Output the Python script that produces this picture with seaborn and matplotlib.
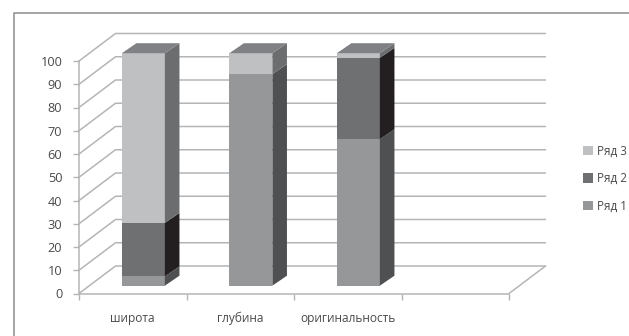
import numpy as np
import pandas as pd
import seaborn as sns
import matplotlib
matplotlib.use("Agg")
import matplotlib.pyplot as plt
from matplotlib.lines import Line2D
from matplotlib.patches import Patch, Polygon

categories = ["широта", "глубина", "оригинальность"]
slots = categories + [""]
series_names = ["Ряд 1", "Ряд 2", "Ряд 3"]
ryad_1 = [4, 91, 63]
ryad_2 = [23, 0, 35]
ryad_3 = [73, 9, 2]

front_colors = ["#969799", "#6f7072", "#bfc0c2"]
side_colors = ["#4f5052", "#231f20", "#6c6d6f"]
top_color = "#808184"
grid_color = "#b4b5b7"
border_color = "#8c8d8f"
text_color = "#4a4a4c"

sns.set_theme(style="white")
plt.rcParams["font.family"] = ["Open Sans", "DejaVu Sans"]
plt.rcParams["font.size"] = 9

W, H = 629, 336
fig = plt.figure(figsize=(W / 100, H / 100), dpi=100, facecolor="white")
left, right, top, bottom = 79, 509, 61, 293.5
ax = fig.add_axes([left / W, 1 - bottom / H, (right - left) / W, (bottom - top) / H])
ax.set_xlim(-0.5, 3.5)
ax.set_ylim(0, 100)
ax.patch.set_alpha(0)

# one pixel expressed in data units, for the oblique projection
ux = 4 / (right - left)
uy = 100 / (bottom - top)
wall_dx, wall_dy = 36.5 * ux, 27.5 * uy
bar_dx, bar_dy = 10.6 * ux, 7.8 * uy
side_dx, side_dy = 14.6 * ux, 10 * uy
bar_width = 0.4

# back wall, left wall and floor
for v in range(0, 101, 10):
    ax.plot([-0.5, -0.5 + wall_dx, 3.5 + wall_dx], [v, v + wall_dy, v + wall_dy],
            color=grid_color, lw=1.1, clip_on=False, zorder=1)
ax.plot([3.5, 3.5 + wall_dx], [0, wall_dy], color=grid_color, lw=1.1, clip_on=False, zorder=1)

# stacked front faces
values = [ryad_1, ryad_2, ryad_3]
base = np.zeros(len(categories))
for name, vals, col in zip(series_names, values, front_colors):
    frame = pd.DataFrame({"cat": categories, "val": vals})
    sns.barplot(data=frame, x="cat", y="val", order=slots, color=col, saturation=1,
                width=bar_width, bottom=base + bar_dy, ax=ax, zorder=3, clip_on=False,
                linewidth=0, errorbar=None)
    base = base + np.array(vals)
for bar in ax.patches:
    bar.set_x(bar.get_x() + bar_dx)
ax.set_xlim(-0.5, 3.5)
ax.set_ylim(0, 100)

# side and top faces follow from the same values
base = np.zeros(len(categories))
for vals, col in zip(values, side_colors):
    for i, v in enumerate(vals):
        if v == 0:
            continue
        x0 = i + bar_width / 2 + bar_dx
        y0 = base[i] + bar_dy
        ax.add_patch(Polygon([(x0, y0), (x0 + side_dx, y0 + side_dy),
                              (x0 + side_dx, y0 + v + side_dy), (x0, y0 + v)],
                             closed=True, fc=col, ec="none", zorder=3, clip_on=False))
    base = base + np.array(vals)
for i, total in enumerate(base):
    xl = i - bar_width / 2 + bar_dx
    xr = i + bar_width / 2 + bar_dx
    yt = total + bar_dy
    ax.add_patch(Polygon([(xl, yt), (xr, yt), (xr + side_dx, yt + side_dy), (xl + side_dx, yt + side_dy)],
                         closed=True, fc=top_color, ec="none", zorder=3, clip_on=False))

# axes
sns.despine(ax=ax, top=True, right=True)
for s in ("left", "bottom"):
    ax.spines[s].set_color(grid_color)
    ax.spines[s].set_linewidth(1.1)
ax.set_xlabel("")
ax.set_ylabel("")
ax.set_yticks(range(0, 101, 10))
ax.set_xticks(range(3))
ax.set_xticklabels(categories)
ax.set_xticks(np.arange(-0.5, 3.6, 1), minor=True)
ax.tick_params(axis="y", length=4, width=1, color=grid_color, labelsize=9.2, labelcolor=text_color, pad=8, left=True)
ax.tick_params(axis="x", which="major", length=0, labelsize=8.6, labelcolor=text_color, pad=13)
ax.tick_params(axis="x", which="minor", length=4, width=1, color=grid_color, bottom=True)

# legend, top entry last in the stack
handles = [Patch(fc=c, ec="none") for c in front_colors[::-1]]
leg = ax.legend(handles, series_names[::-1], loc="center left",
                bbox_to_anchor=(583 / W, 1 - 178.5 / H), bbox_transform=fig.transFigure,
                frameon=False, fontsize=8.4, labelspacing=1.25, handlelength=0.85, handleheight=0.85,
                handletextpad=0.35, borderpad=0, borderaxespad=0, labelcolor=text_color)

# outer chart border
fig.add_artist(Line2D([13.5 / W, 13.5 / W, 1], [0, 1 - 13 / H, 1 - 13 / H],
                      color=border_color, lw=1.1, transform=fig.transFigure))

fig.savefig("out.png", dpi=100, facecolor="white")
